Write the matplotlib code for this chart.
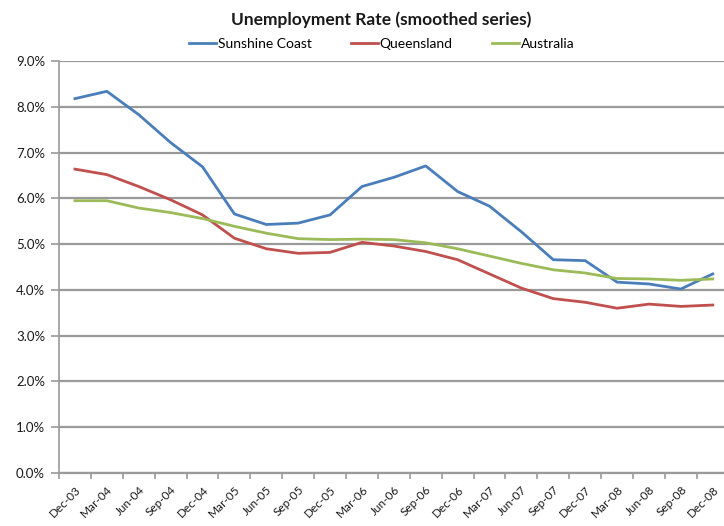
import matplotlib.pyplot as plt
import numpy as np
from matplotlib.ticker import FuncFormatter

plt.rcParams["font.family"] = ["Lato", "DejaVu Sans"]

quarters = ["Dec-03", "Mar-04", "Jun-04", "Sep-04", "Dec-04", "Mar-05", "Jun-05",
            "Sep-05", "Dec-05", "Mar-06", "Jun-06", "Sep-06", "Dec-06", "Mar-07",
            "Jun-07", "Sep-07", "Dec-07", "Mar-08", "Jun-08", "Sep-08", "Dec-08"]

sunshine_coast = [8.18, 8.34, 7.83, 7.22, 6.69, 5.66, 5.43, 5.46, 5.64, 6.26, 6.46,
                  6.71, 6.15, 5.83, 5.27, 4.66, 4.64, 4.17, 4.13, 4.02, 4.35]
queensland = [6.64, 6.52, 6.26, 5.97, 5.64, 5.13, 4.90, 4.80, 4.82, 5.04, 4.96,
              4.84, 4.66, 4.35, 4.04, 3.81, 3.73, 3.60, 3.69, 3.64, 3.67]
australia = [5.95, 5.95, 5.79, 5.69, 5.56, 5.39, 5.24, 5.12, 5.10, 5.11, 5.10,
             5.03, 4.90, 4.74, 4.58, 4.44, 4.37, 4.25, 4.24, 4.21, 4.24]

fig = plt.figure(figsize=(7.24, 5.26), dpi=100)
ax = fig.add_axes([0.0815, 0.1008, 0.925, 0.783])

x = np.arange(len(quarters))
ax.plot(x, sunshine_coast, color="#4A7EBB", lw=2.0, label="Sunshine Coast")
ax.plot(x, queensland, color="#C0504D", lw=2.0, label="Queensland")
ax.plot(x, australia, color="#9BBB59", lw=2.0, label="Australia")

ax.set_xlim(-0.5, len(quarters) - 0.5)
ax.set_ylim(0, 9)
ax.set_yticks(np.arange(0, 9.1, 1))
ax.yaxis.set_major_formatter(FuncFormatter(lambda v, _: f"{v:.1f}%"))
ax.grid(axis="y", color="#9a9a9a", lw=1.6)
ax.set_axisbelow(True)

ax.set_xticks(x)
ax.set_xticklabels(quarters, rotation=45, ha="right", rotation_mode="anchor",
                   fontsize=8.5, color="#1a1a1a")
ax.set_xticks(np.arange(-0.5, len(quarters), 1), minor=True)
ax.tick_params(axis="x", which="major", length=0, pad=8)
ax.tick_params(axis="x", which="minor", length=4, color="#9a9a9a", width=1.2)
ax.tick_params(axis="y", length=6, pad=4, color="#9a9a9a", width=1.2,
               labelsize=9.5, labelcolor="#1a1a1a")

for side in ["top", "right"]:
    ax.spines[side].set_visible(False)
ax.spines["left"].set_color("#9a9a9a")
ax.spines["left"].set_linewidth(1.2)
ax.spines["bottom"].set_color("#9a9a9a")
ax.spines["bottom"].set_linewidth(1.6)

fig.text(0.527, 0.962, "Unemployment Rate (smoothed series)", ha="center",
         va="center", fontsize=12.5, fontweight="bold", color="#1a1a1a")
fig.legend(loc="center", bbox_to_anchor=(0.527, 0.917), ncol=3, frameon=False,
           fontsize=10, handlelength=2.0, handletextpad=0.1, columnspacing=2.8)

fig.savefig("out.png", dpi=100)
